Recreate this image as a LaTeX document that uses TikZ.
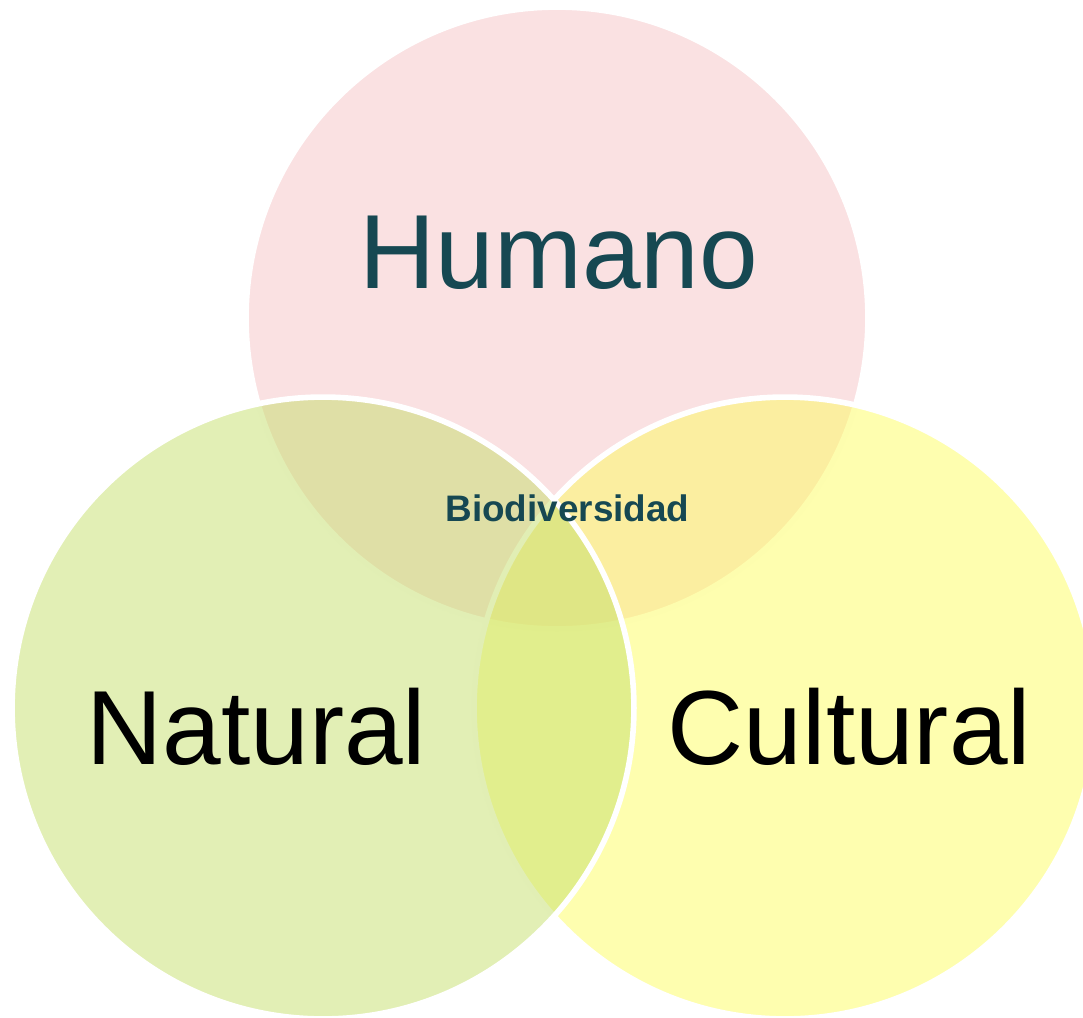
\documentclass[tikz,border=0pt]{standalone}
\usepackage{fontspec}
\setmainfont{Liberation Sans}
\usepackage{xcolor}
\usepackage{tikz}
\definecolor{setHum}{RGB}{245,195,197}
\definecolor{setNat}{RGB}{197,223,107}
\definecolor{setCul}{RGB}{253,253,95}
\definecolor{tealtxt}{RGB}{22,72,82}

\begin{document}
\begin{tikzpicture}[x=0.02cm,y=-0.02cm,
  venn/.style={circle,draw=white,line width=3.2pt,fill opacity=0.5,draw opacity=1,
    minimum size=12.44cm,inner sep=0pt},
  lbl/.style={anchor=base,inner sep=0pt,font=\fontsize{60}{72}\selectfont},
  core/.style={anchor=base,inner sep=0pt,font=\fontsize{21}{25}\selectfont\bfseries,text=tealtxt}]
  \useasboundingbox (0,0) rectangle (1083,1018);
  \clip (0,0) rectangle (1083,1018);
  % the three sets (order: top, right, left)
  \node[venn,fill=setHum] (cHum) at (557,318) {};
  \node[venn,fill=setCul] (cCul) at (785,708) {};
  \node[venn,fill=setNat] (cNat) at (323,708) {};
  % set labels
  \node[lbl,text=tealtxt] (tHum) at (559,288) {Humano};
  \node[lbl] (tNat) at (256.5,764) {Natural};
  \node[lbl] (tCul) at (849.5,764) {Cultural};
  % common part
  \node[core] (tBio) at (567.5,521) {Biodiversidad};
\end{tikzpicture}
\end{document}
